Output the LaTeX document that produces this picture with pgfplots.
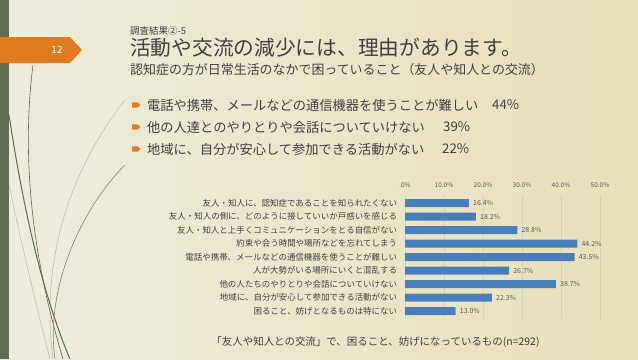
\documentclass[border=0pt]{standalone}
\usepackage{pgfplots}
\pgfplotsset{compat=1.18}
\usepackage{fontspec}
\setmainfont{Noto Sans CJK JP}
\definecolor{bgL}{HTML}{EEEDDB}
\definecolor{bgM}{HTML}{F6F5EA}
\definecolor{bgR}{HTML}{E8E0BA}
\definecolor{stripc}{HTML}{5E6E4F}
\definecolor{orangec}{HTML}{E07A1F}
\definecolor{darkgreen}{HTML}{5B6B47}
\definecolor{lightline}{HTML}{B8BAA2}
\definecolor{titlec}{HTML}{404040}
\definecolor{barc}{HTML}{4A7EBB}
\definecolor{valc}{HTML}{595959}
\definecolor{labc}{HTML}{404040}
\definecolor{gridc}{HTML}{D3D1C3}
\begin{document}
\begin{tikzpicture}[x=1bp,y=-1bp]
\path[use as bounding box] (0,0) rectangle (638,359);
\shade[left color=bgL, middle color=bgM, right color=bgR] (0,0) rectangle (638,359);
% decorative curves
\draw[lightline, line width=0.5pt] (125,100) .. controls (70,170) and (40,260) .. (53,359);
\draw[lightline, line width=0.5pt] (9,185) .. controls (25,260) and (40,320) .. (50,359);
\draw[darkgreen, line width=0.6pt] (33,65) .. controls (22,150) and (30,250) .. (63,359);
\draw[darkgreen, line width=1pt] (9,115) .. controls (25,220) and (45,300) .. (70,359);
\draw[darkgreen!80, line width=0.6pt] (125,165) .. controls (80,210) and (45,290) .. (55,359);
% left strip and slide number
\fill[stripc] (0,0) rectangle (9,359);
\fill[orangec] (0,37) -- (70,37) -- (82,50) -- (70,63) -- (0,63) -- cycle;
\node[text=white, font=\fontsize{10}{12}\selectfont] at (57,50) {12};
% titles
\node[anchor=west, inner sep=0pt, text=titlec, font=\fontsize{9.5}{11}\selectfont] at (130,31) {調査結果②-5};
\node[anchor=west, inner sep=0pt, text=titlec, font=\fontsize{20.8}{24}\selectfont] at (130,48) {活動や交流の減少には、理由があります。};
\node[anchor=west, inner sep=0pt, text=titlec, font=\fontsize{13}{15}\selectfont] at (130,70) {認知症の方が日常生活のなかで困っていること（友人や知人との交流）};
% bullets
\foreach \yy in {105,127,149} {
  \fill[orangec] (132,\yy-2.6) -- (137.5,\yy-2.6) -- (140.5,\yy) -- (137.5,\yy+2.6) -- (132,\yy+2.6) -- cycle;
}
\node[anchor=west, inner sep=0pt, text=titlec, font=\fontsize{13.3}{15}\selectfont] at (147,105) {電話や携帯、メールなどの通信機器を使うことが難しい};
\node[anchor=west, inner sep=0pt, text=titlec, font=\fontsize{13.3}{15}\selectfont] at (492,105) {44\%};
\node[anchor=west, inner sep=0pt, text=titlec, font=\fontsize{13.3}{15}\selectfont] at (147,127) {他の人達とのやりとりや会話についていけない};
\node[anchor=west, inner sep=0pt, text=titlec, font=\fontsize{13.3}{15}\selectfont] at (443,127) {39\%};
\node[anchor=west, inner sep=0pt, text=titlec, font=\fontsize{13.3}{15}\selectfont] at (147,149) {地域に、自分が安心して参加できる活動がない};
\node[anchor=west, inner sep=0pt, text=titlec, font=\fontsize{13.3}{15}\selectfont] at (442,149) {22\%};
% footer
\node[inner sep=0pt, text=titlec, font=\fontsize{10.5}{12}\selectfont] at (375.5,342) {「友人や知人との交流」で、困ること、妨げになっているもの(n=292)};
% chart
\begin{axis}[
  at={(405bp,-195bp)}, anchor=north west,
  scale only axis, width=195bp, height=124.2bp,
  xbar, bar width=8bp,
  xmin=0, xmax=50, ymin=-0.6, ymax=8.6, y dir=reverse,
  axis line style={draw=none},
  xtick={0,10,20,30,40,50},
  xticklabels={.0\%,10.0\%,20.0\%,30.0\%,40.0\%,50.0\%},
  xticklabel pos=upper,
  major tick length=0pt,
  xmajorgrids, grid style={draw=gridc, line width=0.6pt},
  ytick={0,1,2,3,4,5,6,7,8},
  yticklabels={友人・知人に、認知症であることを知られたくない,
    友人・知人の側に、どのように接していいか戸惑いを感じる,
    友人・知人と上手くコミュニケーションをとる自信がない,
    約束や会う時間や場所などを忘れてしまう,
    電話や携帯、メールなどの通信機器を使うことが難しい,
    人が大勢がいる場所にいくと混乱する,
    他の人たちのやりとりや会話についていけない,
    地域に、自分が安心して参加できる活動がない,
    困ること、妨げとなるものは特にない},
  yticklabel style={font=\fontsize{8.5}{10}\selectfont, text=labc, inner sep=0pt, xshift=-7.7bp},
  xticklabel style={font=\fontsize{6.5}{8}\selectfont, text=valc, inner sep=0pt, yshift=7bp},
  point meta=x,
  nodes near coords={\pgfmathprintnumber[fixed,fixed zerofill,precision=1,assume math mode=true]{\pgfplotspointmeta}\%},
  nodes near coords style={font=\fontsize{7}{8}\selectfont, text=valc, anchor=west, inner sep=0pt, xshift=4bp},
  clip=false,
]
\addplot[fill=barc, draw=none] coordinates {(16.4,0) (18.2,1) (28.8,2) (44.2,3) (43.5,4) (26.7,5) (38.7,6) (22.3,7) (13.0,8)};
\end{axis}
\end{tikzpicture}
\end{document}
